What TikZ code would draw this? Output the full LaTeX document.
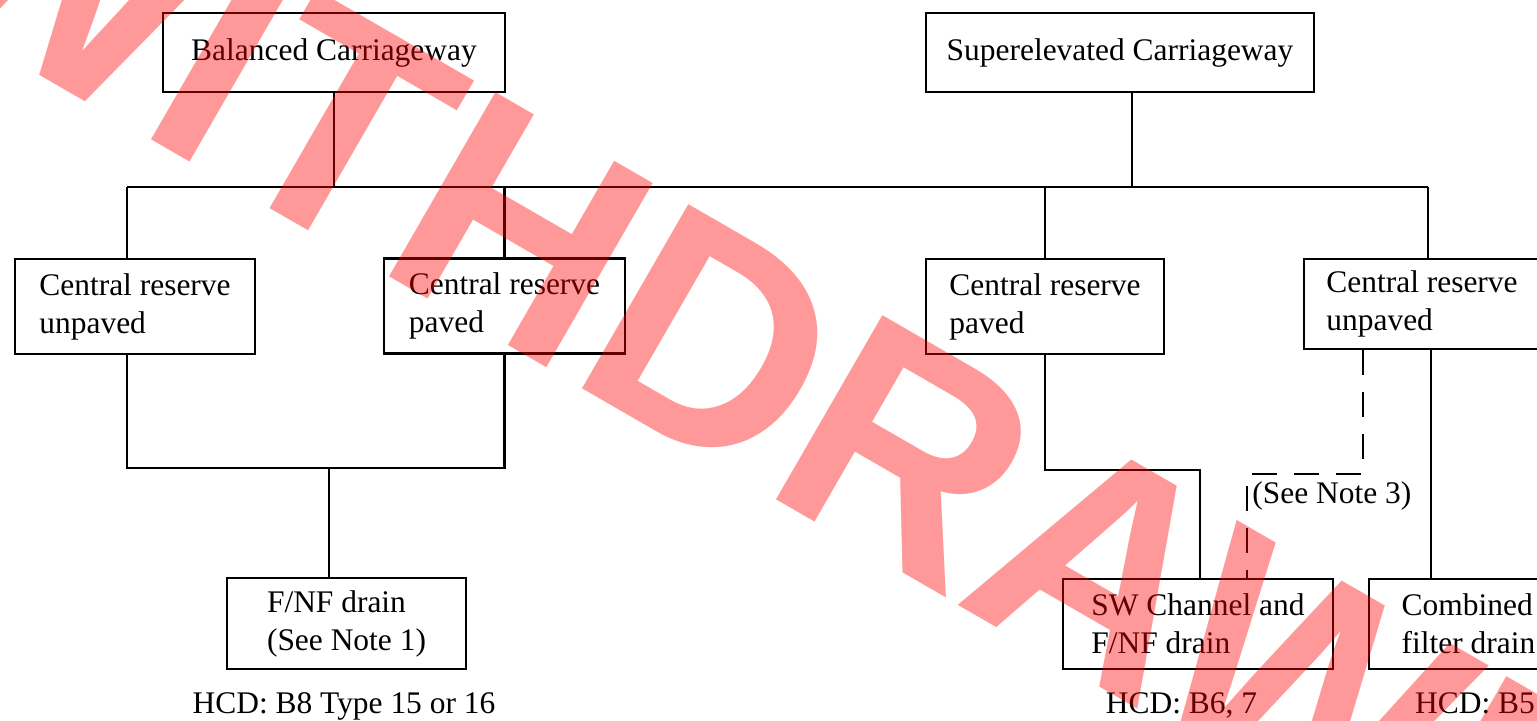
\documentclass[tikz,border=0pt]{standalone}
\usepackage{fontspec}
\setmainfont{Liberation Serif}
\newfontfamily\markfont{Liberation Sans}
\usepackage{tikz}

\newcommand{\boxfont}{\fontsize{17.9pt}{21.6pt}\selectfont}

\begin{document}
\begin{tikzpicture}[x=0.02cm,y=-0.02cm,
   box/.style={draw,line width=1.3pt,align=left,inner sep=0pt,font=\boxfont},
   link/.style={line width=1.15pt},
   note/.style={line width=1.15pt,dash pattern=on 0.5cm off 0.34cm}]
         \useasboundingbox (0,0) rectangle (1537,720) ;
         % top row
         \node[box,minimum width=6.84cm,minimum height=1.58cm] (bal) at (334,52.5) {Balanced Carriageway} ;
         \node[box,minimum width=7.76cm,minimum height=1.58cm] (sup) at (1120,52.5) {Superelevated Carriageway} ;
         % central reserve row
         \node[box,minimum width=4.8cm,minimum height=1.9cm] (cru1) at (135,306.5) {Central reserve\\unpaved} ;
         \node[box,minimum width=4.82cm,minimum height=1.9cm] (crp1) at (504.5,306) {Central reserve\\paved} ;
         \node[box,minimum width=4.76cm,minimum height=1.9cm] (crp2) at (1045,306.5) {Central reserve\\paved} ;
         \node[box,minimum width=4.72cm,minimum height=1.8cm] (cru2) at (1422,304) {Central reserve\\unpaved} ;
         % drains
         \node[box,minimum width=4.78cm,minimum height=1.82cm] (fnf) at (346.5,623.5) {F/NF drain\\(See Note 1)} ;
         \node[box,minimum width=5.4cm,minimum height=1.8cm] (sw) at (1198,624) {SW Channel and\\F/NF drain} ;
         \node[box,minimum width=3.98cm,minimum height=1.8cm] (comb) at (1468.5,624) {Combined\\filter drain} ;
         \node[font=\boxfont,anchor=base] (hcd1) at (344,713) {HCD: B8 Type 15 or 16} ;
         \node[font=\boxfont,anchor=base] (hcd2) at (1181.5,713) {HCD: B6, 7} ;
         \node[font=\boxfont,anchor=base west] (hcd3) at (1409,713) {HCD: B5} ;
         \node[font=\boxfont,anchor=base west,inner sep=0pt] (note3) at (1252,503) {(See Note 3)} ;
         % connectors
         \coordinate (busW) at (127,187) ;
         \coordinate (busE) at (1428,187) ;
         \draw[link] (busW) -- (busE) ;
         \draw[link] (bal.south) -- (bal.south |- busW) ;
         \draw[link] ([xshift=0.24cm]sup.south) -- ([xshift=0.24cm]sup.south |- busW) ;
         \draw[link] (busW) -- (busW |- cru1.north) ;
         \draw[link] (crp1.north) -- (crp1.north |- busW) ;
         \draw[link] (crp2.north) -- (crp2.north |- busW) ;
         \draw[link] (busE) -- (busE |- cru2.north) ;
         \coordinate (mergeL) at (329,468) ;
         \draw[link] (busW |- cru1.south) |- (mergeL) -| (crp1.south) ;
         \draw[link] (mergeL) -- (mergeL |- fnf.north) ;
         \coordinate (bendR) at (1200,470) ;
         \draw[link] (crp2.south) |- (bendR) -- (bendR |- sw.north) ;
         \coordinate (bendN) at (1363,474) ;
         \coordinate (bendS) at (1247,474) ;
         \draw[note] (bendN |- cru2.south) -- (bendN) -- (bendS) -- (bendS |- sw.north) ;
         \draw[link] ([xshift=0.18cm]cru2.south) -- ([xshift=0.18cm]cru2.south |- comb.north) ;
         % watermark
         \node[rotate=-30,text=red,text opacity=0.4,font=\markfont\bfseries\fontsize{176pt}{176pt}\selectfont,inner sep=0pt] (mark) at (781.5,380.5) {WITHDRAWN} ;
      \end{tikzpicture}
\end{document}
